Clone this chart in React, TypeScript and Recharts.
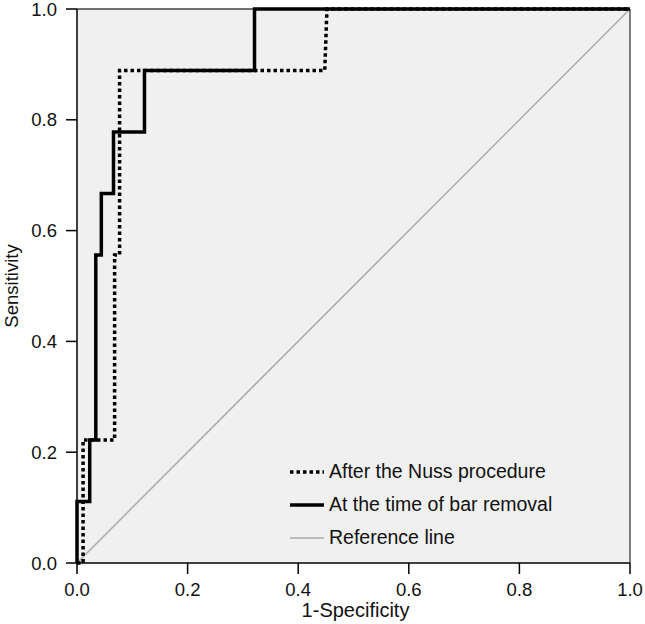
import {
  LineChart,
  Line,
  XAxis,
  YAxis,
  CartesianGrid,
  ReferenceLine,
} from "recharts";

// 1-Specificity (x) / Sensitivity (y) corner points of each ROC step curve
const nussFpr = [0, 0.011, 0.011, 0.068, 0.068, 0.077, 0.077, 0.448, 0.452, 1];
const nussTpr = [0, 0, 0.222, 0.222, 0.556, 0.556, 0.889, 0.889, 1, 1];

const barFpr = [0, 0, 0.023, 0.023, 0.034, 0.034, 0.044, 0.044, 0.066, 0.066, 0.122, 0.122, 0.321, 0.321, 1];
const barTpr = [0, 0.111, 0.111, 0.222, 0.222, 0.556, 0.556, 0.667, 0.667, 0.778, 0.778, 0.889, 0.889, 1, 1];

const refFpr = [0, 1];
const refTpr = [0, 1];

const ticks = [0, 0.2, 0.4, 0.6, 0.8, 1];

const DOTS = "3.5 3";

const legendItems = [
  { name: "After the Nuss procedure", color: "#000", width: 3.5, dash: DOTS },
  { name: "At the time of bar removal", color: "#000", width: 3.5, dash: undefined },
  { name: "Reference line", color: "#aaa", width: 1.5, dash: undefined },
];

const toPoints = (xs: number[], ys: number[]) =>
  xs.map((x, i) => ({ x, y: ys[i] }));

const font = "'Liberation Sans', Arial, Helvetica, sans-serif";
const TICK_FS = 18.5;

const XTick = (p: any) => (
  <text x={p.x} y={p.y} dy="0.71em" textAnchor="middle" fontSize={TICK_FS} fontFamily={font} fill="#111">
    {Number(p.payload.value).toFixed(1)}
  </text>
);

const YTick = (p: any) => (
  <text x={p.x} y={p.y} dy="0.36em" textAnchor="end" fontSize={TICK_FS} fontFamily={font} fill="#111">
    {Number(p.payload.value).toFixed(1)}
  </text>
);

const XTitle = (p: any) => {
  const vb = p.viewBox;
  return (
    <text x={vb.x + vb.width / 2 + 2} y={vb.y + vb.height - 7} textAnchor="middle" fontSize={20} fontFamily={font} fill="#111">
      1-Specificity
    </text>
  );
};

const YTitle = (p: any) => {
  const vb = p.viewBox;
  const cx = 11;
  const cy = vb.y + vb.height / 2;
  return (
    <text
      x={cx}
      y={cy}
      dy="0.36em"
      transform={`rotate(-90, ${cx}, ${cy})`}
      textAnchor="middle"
      fontSize={18.5}
      fontFamily={font}
      fill="#111"
    >
      Sensitivity
    </text>
  );
};

export default function App() {
  return (
    <div style={{ position: "absolute", left: 0, top: 0, width: 645, height: 624, background: "#fff", fontFamily: font }}>
      <LineChart
        width={645}
        height={624}
        margin={{ top: 9, right: 15, left: 0, bottom: 0 }}
      >
        <CartesianGrid horizontal={false} vertical={false} fill="#f0f0f0" />
        <XAxis
          type="number"
          dataKey="x"
          domain={[0, 1]}
          ticks={ticks}
          height={61}
          tickSize={11}
          tickMargin={9}
          stroke="#000"
          strokeWidth={1.5}
          tick={<XTick />}
          label={<XTitle />}
        />
        <YAxis
          type="number"
          dataKey="y"
          domain={[0, 1]}
          ticks={ticks}
          width={77}
          tickSize={11}
          tickMargin={9}
          stroke="#000"
          strokeWidth={1.5}
          tick={<YTick />}
          label={<YTitle />}
        />
        {/* frame: top and right edges */}
        <ReferenceLine y={1} stroke="#444" strokeWidth={1.5} />
        <ReferenceLine x={1} stroke="#555" strokeWidth={1.5} />

        <Line
          data={toPoints(refFpr, refTpr)}
          dataKey="y"
          type="linear"
          stroke="#aaa"
          strokeWidth={1.5}
          dot={false}
          isAnimationActive={false}
        />
        <Line
          data={toPoints(nussFpr, nussTpr)}
          dataKey="y"
          type="linear"
          stroke="#000"
          strokeWidth={3.5}
          strokeDasharray={DOTS}
          dot={false}
          isAnimationActive={false}
        />
        <Line
          data={toPoints(barFpr, barTpr)}
          dataKey="y"
          type="linear"
          stroke="#000"
          strokeWidth={3.5}
          dot={false}
          isAnimationActive={false}
        />
      </LineChart>

      {/* legend inside the plot, lower right */}
      <div style={{ position: "absolute", left: 290, top: 455, fontSize: 19.5, color: "#111" }}>
        {legendItems.map((it) => (
          <div key={it.name} style={{ display: "flex", alignItems: "center", height: 33 }}>
            <svg width={34} height={10} style={{ marginRight: 5 }}>
              <line
                x1={0}
                y1={5}
                x2={34}
                y2={5}
                stroke={it.color}
                strokeWidth={it.width}
                strokeDasharray={it.dash}
              />
            </svg>
            <span>{it.name}</span>
          </div>
        ))}
      </div>
    </div>
  );
}
